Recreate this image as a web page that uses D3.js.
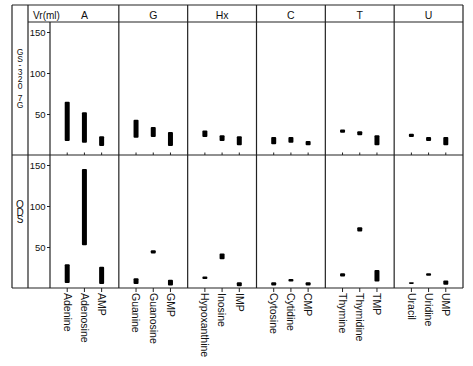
<!DOCTYPE html>
<html><head><meta charset="utf-8">
<script src="https://cdn.jsdelivr.net/npm/d3@7"></script>
<style>
html,body{margin:0;padding:0;background:#fff;}
svg text{font-family:"Liberation Sans",Arial,Helvetica,sans-serif;fill:#111;}
.vert{writing-mode:vertical-rl;text-orientation:upright;}
</style></head>
<body><svg id="c" width="473" height="366"></svg>
<script>
// ---- data ----
const groups = ["A","G","Hx","C","T","U"];
const compounds = [
  ["Adenine","Adenosine","AMP"],
  ["Guanine","Guanosine","GMP"],
  ["Hypoxanthine","Inosine","IMP"],
  ["Cytosine","Cytidine","CMP"],
  ["Thymine","Thymidine","TMP"],
  ["Uracil","Uridine","UMP"]
];
// elution volume ranges Vr (ml): [low, high]
const gsLow  = [17, 15, 11,  21, 22, 11,  22, 17, 12,  13, 15, 12,  27, 24, 12,  22, 17, 12];
const gsHigh = [65, 52, 23,  43, 34, 28,  30, 24, 23,  22, 22, 17,  31, 29, 24,  26, 22, 22];
const odsLow  = [ 6, 52,  5,   5, 42,  3,  11, 35,  2,   3,  8,  3,  14, 69,  8,   5, 15,  4];
const odsHigh = [29,145, 26,  12, 46, 10,  14, 42,  7,   7, 11,  7,  18, 74, 22,   7, 18,  9];
const yTicks = [50, 100, 150];
const rowLabels = [["GS-320", "7G"], ["ODS"]];
const axisTitle = "Vr(ml)";

// ---- layout ----
const svg = d3.select("#c");
const L0 = 12, L1 = 28, AX = 50, R = 463;
const T0 = 5, H1 = 22, MID = 155, B = 288;
const lineCol = "#222";

const gx = d3.scaleBand().domain(groups).range([AX, R]).padding(0);
const inner = d3.scalePoint().domain([0,1,2]).range([0, gx.bandwidth()]).padding(1);
const yTop = d3.scaleLinear().domain([0,150]).range([MID, 32]);
const yBot = d3.scaleLinear().domain([0,150]).range([B, 165]);

const items = [];
compounds.forEach((arr, gi) => arr.forEach((name, ci) => {
  const k = gi*3 + ci;
  items.push({name, g: groups[gi], ci, x: gx(groups[gi]) + inner(ci),
    gl: gsLow[k], gh: gsHigh[k], ol: odsLow[k], oh: odsHigh[k]});
}));

// frame lines
const ln = (x1,y1,x2,y2,w=1.2) => svg.append("line").attr("x1",x1).attr("y1",y1).attr("x2",x2).attr("y2",y2)
  .attr("stroke",lineCol).attr("stroke-width",w);
ln(L0, T0, R, T0);
ln(L0, B, R, B);
ln(L0, T0, L0, B);
ln(R, T0, R, B);
ln(L1, T0, L1, B);
ln(L1, H1, R, H1);
ln(L0, MID, R, MID);
ln(AX, H1, AX, B);
groups.forEach((g,i) => { if (i>0) ln(gx(g), T0, gx(g), B); });

// header
svg.append("text").attr("x", 33).attr("y", 18.5).attr("font-size", 10).text(axisTitle);
svg.selectAll("text.grp").data(groups).join("text").attr("class","grp")
  .attr("x", d => gx(d) + gx.bandwidth()/2).attr("y", 18.5)
  .attr("text-anchor","middle").attr("font-size", 10.5).text(d => d);

// y axes
function yAxis(scale) {
  const g = svg.append("g").attr("transform", `translate(${AX},0)`)
    .call(d3.axisLeft(scale).tickValues(yTicks).tickSize(3).tickPadding(1.5));
  g.select(".domain").remove();
  g.selectAll("line").attr("stroke", lineCol);
  g.selectAll("text").attr("font-size", 9.5).attr("font-family", "Liberation Sans,Arial,sans-serif").attr("fill","#111");
}
yAxis(yTop); yAxis(yBot);

// x ticks
svg.selectAll("line.tt").data(items).join("line").attr("class","tt")
  .attr("x1", d=>d.x).attr("x2", d=>d.x).attr("y1", MID-2.5).attr("y2", MID)
  .attr("stroke", lineCol).attr("stroke-width", 1);
svg.selectAll("line.bt").data(items).join("line").attr("class","bt")
  .attr("x1", d=>d.x).attr("x2", d=>d.x).attr("y1", B).attr("y2", B+4)
  .attr("stroke", lineCol).attr("stroke-width", 1);

// bars
const bw = 5;
svg.selectAll("rect.gs").data(items).join("rect").attr("class","gs")
  .attr("x", d=>d.x - bw/2).attr("width", bw)
  .attr("y", d=>yTop(d.gh)).attr("height", d=>yTop(d.gl)-yTop(d.gh))
  .attr("rx", 1).attr("fill", "#000");
svg.selectAll("rect.ods").data(items).join("rect").attr("class","ods")
  .attr("x", d=>d.x - bw/2).attr("width", bw)
  .attr("y", d=>yBot(d.oh)).attr("height", d=>yBot(d.ol)-yBot(d.oh))
  .attr("rx", 1).attr("fill", "#000");

// compound labels (rotated)
svg.selectAll("text.cl").data(items).join("text").attr("class","cl")
  .attr("transform", d => `translate(${d.x},${B+5}) rotate(90)`)
  .attr("dy", "0.35em").attr("font-size", 10.5).text(d => d.name);

// row labels, stacked upright characters
const vt = (s, y, fs, ls) => svg.append("text").attr("class","vert").attr("x", 20).attr("y", y)
  .attr("font-size", fs).attr("letter-spacing", ls).text(s);
vt(rowLabels[0][0], 47, 8.5, -3.3);
vt(rowLabels[0][1], 93, 8.5, -3.3);
vt(rowLabels[1][0], 199, 10, -3.4);
</script></body></html>
